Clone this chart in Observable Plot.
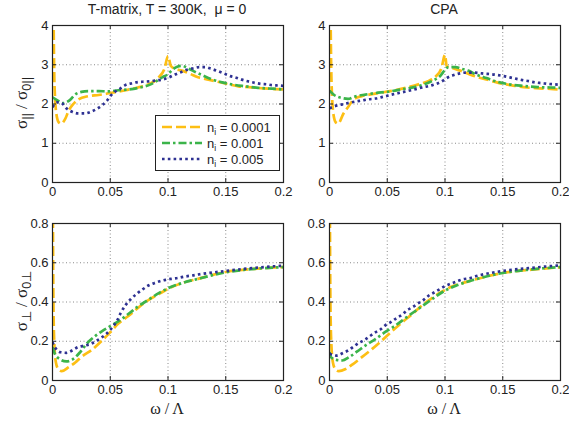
<!DOCTYPE html>
<html><head><meta charset="utf-8">
<script src="https://cdn.jsdelivr.net/npm/d3@7"></script>
<script src="https://cdn.jsdelivr.net/npm/@observablehq/plot@0.6"></script>
<style>
body{margin:0;background:#fff;}
#root{position:relative;width:569px;height:424px;font-family:"Liberation Sans",Arial,Helvetica,sans-serif;color:#222;overflow:hidden;background:#fff}
.p{position:absolute}
.lbl{position:absolute;font-size:13px;white-space:pre;transform:translate(-50%,-50%);line-height:1}
.serif{font-family:"Liberation Serif","Times New Roman",serif}
.rot{transform:translate(-50%,-50%) rotate(-90deg)}
sub{font-size:75%;vertical-align:baseline;position:relative;top:0.35em;font-family:"Liberation Sans",Arial,sans-serif}
</style></head><body><div id="root"></div>
<script>
// ---- data ----
const xTicks = [0, 0.05, 0.1, 0.15, 0.2];
const yTicksPar = [0, 1, 2, 3, 4];
const yTicksPerp = [0, 0.2, 0.4, 0.6, 0.8];
const seriesNames = ["n_i = 0.0001", "n_i = 0.001", "n_i = 0.005"];
const panelTitles = ["T-matrix, T = 300K,  \u03bc = 0", "CPA"];

// T-matrix, parallel
const tmPar1 = [[0.0008,4.6],[0.0017,2.5],[0.0035,1.72],[0.0055,1.53],[0.0075,1.5],[0.011,1.62],[0.014,1.83],[0.018,2.0],[0.022,2.11],[0.031,2.2],[0.04,2.23],[0.05,2.28],[0.063,2.35],[0.074,2.42],[0.083,2.5],[0.092,2.68],[0.097,2.9],[0.1,3.22],[0.1025,2.97],[0.106,2.9],[0.112,2.85],[0.119,2.77],[0.126,2.68],[0.135,2.62],[0.144,2.56],[0.153,2.5],[0.161,2.45],[0.17,2.43],[0.182,2.4],[0.193,2.38],[0.2,2.37]];
const tmPar2 = [[0,2.17],[0.005,2.08],[0.009,2.02],[0.015,2.1],[0.02,2.25],[0.025,2.31],[0.031,2.33],[0.04,2.33],[0.048,2.32],[0.057,2.35],[0.066,2.37],[0.076,2.42],[0.085,2.5],[0.095,2.68],[0.1,2.76],[0.104,2.88],[0.108,2.95],[0.112,2.97],[0.118,2.9],[0.124,2.81],[0.13,2.73],[0.138,2.63],[0.147,2.55],[0.155,2.5],[0.167,2.45],[0.178,2.41],[0.19,2.39],[0.2,2.37]];
const tmPar3 = [[0,1.92],[0.004,2.04],[0.008,2.02],[0.012,1.89],[0.017,1.8],[0.022,1.76],[0.028,1.76],[0.033,1.8],[0.038,1.87],[0.043,1.97],[0.047,2.08],[0.05,2.2],[0.054,2.31],[0.059,2.4],[0.063,2.48],[0.069,2.53],[0.074,2.56],[0.08,2.57],[0.085,2.58],[0.09,2.6],[0.096,2.63],[0.101,2.68],[0.106,2.75],[0.111,2.81],[0.116,2.87],[0.122,2.91],[0.127,2.94],[0.132,2.94],[0.137,2.9],[0.143,2.84],[0.149,2.77],[0.154,2.71],[0.159,2.67],[0.164,2.62],[0.169,2.58],[0.175,2.54],[0.181,2.51],[0.186,2.5],[0.19,2.48],[0.196,2.47],[0.2,2.46]];
// CPA, parallel
const cpaPar1 = [[0.0008,4.6],[0.0017,2.6],[0.0035,1.72],[0.0055,1.53],[0.0075,1.5],[0.012,1.75],[0.017,1.96],[0.021,2.12],[0.028,2.2],[0.037,2.25],[0.047,2.3],[0.057,2.35],[0.067,2.42],[0.077,2.5],[0.086,2.59],[0.092,2.7],[0.097,2.92],[0.1,3.25],[0.1015,2.96],[0.105,2.93],[0.113,2.85],[0.121,2.76],[0.13,2.67],[0.139,2.6],[0.149,2.52],[0.159,2.47],[0.171,2.42],[0.182,2.4],[0.194,2.38],[0.2,2.37]];
const cpaPar2 = [[0,2.34],[0.004,2.23],[0.011,2.15],[0.016,2.13],[0.022,2.19],[0.031,2.24],[0.04,2.28],[0.05,2.31],[0.06,2.36],[0.07,2.41],[0.08,2.48],[0.089,2.59],[0.096,2.72],[0.1,2.87],[0.103,2.94],[0.109,2.94],[0.114,2.9],[0.12,2.85],[0.127,2.75],[0.136,2.66],[0.146,2.56],[0.156,2.5],[0.168,2.46],[0.18,2.43],[0.191,2.42],[0.2,2.41]];
const cpaPar3 = [[0,1.89],[0.004,1.94],[0.011,1.99],[0.017,2.03],[0.022,2.06],[0.028,2.09],[0.034,2.12],[0.04,2.14],[0.046,2.18],[0.054,2.24],[0.063,2.3],[0.072,2.36],[0.08,2.42],[0.089,2.48],[0.0975,2.58],[0.102,2.67],[0.107,2.73],[0.113,2.78],[0.118,2.8],[0.123,2.8],[0.129,2.79],[0.135,2.77],[0.14,2.76],[0.145,2.74],[0.151,2.71],[0.156,2.68],[0.162,2.64],[0.167,2.61],[0.173,2.58],[0.178,2.55],[0.184,2.53],[0.19,2.51],[0.195,2.5],[0.2,2.49]];
// T-matrix, perpendicular
const tmPerp1 = [[0.0003,0.9],[0.0008,0.4],[0.0015,0.2],[0.003,0.09],[0.005,0.058],[0.008,0.048],[0.014,0.068],[0.02,0.093],[0.025,0.12],[0.034,0.156],[0.043,0.204],[0.05,0.246],[0.057,0.29],[0.066,0.33],[0.074,0.37],[0.083,0.41],[0.092,0.44],[0.1,0.467],[0.112,0.496],[0.126,0.518],[0.15,0.553],[0.175,0.569],[0.2,0.578]];
const tmPerp2 = [[0,0.17],[0.002,0.136],[0.006,0.11],[0.012,0.097],[0.018,0.11],[0.024,0.145],[0.03,0.19],[0.036,0.222],[0.043,0.252],[0.05,0.277],[0.058,0.305],[0.067,0.345],[0.074,0.377],[0.083,0.411],[0.092,0.445],[0.1,0.47],[0.112,0.496],[0.126,0.518],[0.15,0.551],[0.175,0.569],[0.2,0.578]];
const tmPerp3 = [[0,0.195],[0.003,0.161],[0.007,0.144],[0.012,0.141],[0.017,0.153],[0.022,0.17],[0.028,0.178],[0.033,0.186],[0.038,0.202],[0.043,0.221],[0.047,0.24],[0.051,0.265],[0.056,0.306],[0.059,0.343],[0.063,0.382],[0.068,0.416],[0.073,0.442],[0.078,0.464],[0.083,0.484],[0.088,0.496],[0.093,0.506],[0.098,0.513],[0.103,0.518],[0.109,0.523],[0.115,0.53],[0.121,0.535],[0.126,0.54],[0.15,0.558],[0.175,0.574],[0.2,0.585]];
// CPA, perpendicular
const cpaPerp1 = [[0.0003,0.9],[0.0008,0.4],[0.0015,0.2],[0.003,0.09],[0.005,0.058],[0.008,0.048],[0.014,0.059],[0.02,0.082],[0.028,0.119],[0.037,0.161],[0.046,0.207],[0.054,0.251],[0.063,0.297],[0.072,0.34],[0.08,0.382],[0.089,0.421],[0.098,0.455],[0.106,0.479],[0.115,0.496],[0.125,0.513],[0.15,0.548],[0.175,0.565],[0.2,0.577]];
const cpaPerp2 = [[0,0.145],[0.0012,0.119],[0.006,0.105],[0.011,0.102],[0.017,0.119],[0.024,0.148],[0.031,0.178],[0.04,0.212],[0.048,0.246],[0.057,0.28],[0.066,0.319],[0.074,0.353],[0.083,0.39],[0.092,0.428],[0.1,0.458],[0.109,0.482],[0.118,0.501],[0.126,0.515],[0.15,0.548],[0.175,0.566],[0.2,0.578]];
const cpaPerp3 = [[0,0.136],[0.006,0.127],[0.012,0.141],[0.017,0.156],[0.021,0.173],[0.025,0.19],[0.031,0.209],[0.035,0.226],[0.039,0.243],[0.044,0.26],[0.048,0.28],[0.053,0.297],[0.058,0.318],[0.063,0.336],[0.067,0.357],[0.072,0.374],[0.077,0.394],[0.082,0.413],[0.086,0.433],[0.091,0.45],[0.096,0.467],[0.1,0.481],[0.105,0.493],[0.11,0.504],[0.115,0.515],[0.121,0.521],[0.126,0.53],[0.15,0.558],[0.175,0.574],[0.2,0.587]];

// ---- styles ----
const styles = [
  {stroke: "#fdbf14", strokeDasharray: "10,4", strokeWidth: 2.7},
  {stroke: "#3bb44a", strokeDasharray: "8,3,2.5,3", strokeWidth: 2.7},
  {stroke: "#2e3192", strokeDasharray: "2.6,3.2", strokeWidth: 2.7}
];

const root = document.getElementById("root");

function panel({left, top, width, height, ml, mr, mt, mb, yDomain, yTicks, series}) {
  const yTickLen = (yDomain[1] - yDomain[0]) * 4 / (height - mt - mb);
  const xTickLen = 0.2 * 4 / (width - ml - mr);
  const chart = Plot.plot({
    width, height,
    marginLeft: ml, marginRight: mr, marginTop: mt, marginBottom: mb,
    x: {domain: [0, 0.2]},
    y: {domain: yDomain},
    style: {fontSize: "13px", fontFamily: "'Liberation Sans', Arial, Helvetica, sans-serif", overflow: "visible", background: "transparent", color: "#222"},
    marks: [
      Plot.gridX(xTicks, {stroke: "#8a8a8a", strokeOpacity: 1, strokeDasharray: "1,2.5"}),
      Plot.gridY(yTicks, {stroke: "#8a8a8a", strokeOpacity: 1, strokeDasharray: "1,2.5"}),
      ...series.map((s, i) => Plot.line(s, {x: d => d[0], y: d => d[1], curve: "monotone-x", clip: true, strokeLinecap: "butt", strokeLinejoin: "round", ...styles[i]})),
      Plot.ruleX(xTicks, {x: d => d, y1: yDomain[0], y2: yDomain[0] + yTickLen, stroke: "#222"}),
      Plot.ruleX(xTicks, {x: d => d, y1: yDomain[1], y2: yDomain[1] - yTickLen, stroke: "#222"}),
      Plot.ruleY(yTicks, {y: d => d, x1: 0, x2: xTickLen, stroke: "#222"}),
      Plot.ruleY(yTicks, {y: d => d, x1: 0.2, x2: 0.2 - xTickLen, stroke: "#222"}),
      Plot.frame({stroke: "#222", strokeWidth: 1.2}),
      Plot.axisX(xTicks, {tickSize: 0, tickPadding: 4, label: null, tickFormat: d => String(d), fill: "#222", fontSize: 13}),
      Plot.axisY(yTicks, {tickSize: 0, tickPadding: 4, label: null, tickFormat: d => String(d), fill: "#222", fontSize: 13})
    ]
  });
  chart.classList.add("p");
  chart.style.left = left + "px";
  chart.style.top = top + "px";
  root.appendChild(chart);
}

panel({left: 0, top: 0, width: 290, height: 200, ml: 52, mr: 7, mt: 25, mb: 18, yDomain: [0, 4], yTicks: yTicksPar, series: [tmPar1, tmPar2, tmPar3]});
panel({left: 290, top: 0, width: 279, height: 200, ml: 39, mr: 9, mt: 25, mb: 18, yDomain: [0, 4], yTicks: yTicksPar, series: [cpaPar1, cpaPar2, cpaPar3]});
panel({left: 0, top: 200, width: 290, height: 200, ml: 52, mr: 7, mt: 23, mb: 20, yDomain: [0, 0.8], yTicks: yTicksPerp, series: [tmPerp1, tmPerp2, tmPerp3]});
panel({left: 290, top: 200, width: 279, height: 200, ml: 39, mr: 9, mt: 23, mb: 20, yDomain: [0, 0.8], yTicks: yTicksPerp, series: [cpaPerp1, cpaPerp2, cpaPerp3]});

function label(html, x, y, cls, size) {
  const d = document.createElement("div");
  d.className = "lbl" + (cls ? " " + cls : "");
  d.style.left = x + "px";
  d.style.top = y + "px";
  if (size) d.style.fontSize = size + "px";
  d.innerHTML = html;
  root.appendChild(d);
}
label(panelTitles[0], 167, 9, "", 14);
label(panelTitles[1], 444, 9, "", 14);
label("\u03c3<sub>||</sub> / \u03c3<sub>0||</sub>", 21, 103, "rot serif", 17);
label("\u03c3<sub>\u22a5</sub> / \u03c3<sub>0\u22a5</sub>", 21, 301, "rot serif", 17);
label("\u03c9 / \u039b", 167, 409, "serif", 16);
label("\u03c9 / \u039b", 444, 409, "serif", 16);

// legend
const ns = "http://www.w3.org/2000/svg";
const leg = document.createElementNS(ns, "svg");
leg.setAttribute("width", 125); leg.setAttribute("height", 56);
leg.style.position = "absolute"; leg.style.left = "155px"; leg.style.top = "115px";
leg.style.fontFamily = "'Liberation Sans', Arial, sans-serif"; leg.style.fontSize = "13px";
let html = `<rect x="0.5" y="0.5" width="124" height="55" fill="#fff" stroke="#222" stroke-width="1"/>`;
seriesNames.forEach((name, i) => {
  const y = 12 + i * 16;
  const s = styles[i];
  const [n, rest] = name.split("_");
  const sub = rest.slice(0, 1), tail = rest.slice(1);
  html += `<line x1="7" x2="47" y1="${y}" y2="${y}" stroke="${s.stroke}" stroke-width="${s.strokeWidth}" stroke-dasharray="${s.strokeDasharray}"/>`;
  html += `<text x="52" y="${y + 4.5}" fill="#222">${n}<tspan dy="3" font-size="8.5">${sub}</tspan><tspan dy="-3">${tail}</tspan></text>`;
});
leg.innerHTML = html;
root.appendChild(leg);
</script></body></html>
